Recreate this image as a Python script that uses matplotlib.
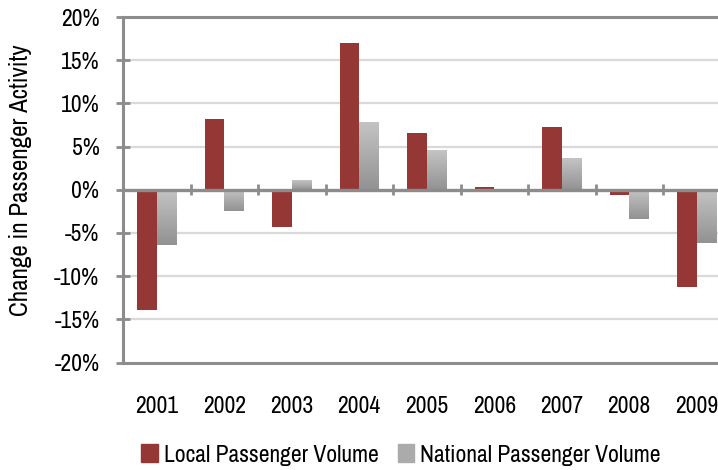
import numpy as np
import matplotlib
matplotlib.use('Agg')
import matplotlib.pyplot as plt
import matplotlib.patches as mpatches
from matplotlib.colors import LinearSegmentedColormap

plt.rcParams['font.family'] = ['Liberation Sans Narrow', 'Archivo Narrow', 'PT Sans Narrow',
                               'Roboto Condensed', 'DejaVu Sans']

years = ['2001', '2002', '2003', '2004', '2005', '2006', '2007', '2008', '2009']
local_vol = [-13.9, 8.2, -4.3, 17.0, 6.6, 0.3, 7.3, -0.6, -11.3]
national_vol = [-6.4, -2.5, 1.1, 7.8, 4.6, 0.0, 3.7, -3.4, -6.2]
yticks = [-20, -15, -10, -5, 0, 5, 10, 15, 20]

red = '#953735'
axis_grey = '#8c8c8c'
grad_cmap = LinearSegmentedColormap.from_list('grad', ['#c4c4c4', '#929292'])

fig = plt.figure(figsize=(7.18, 4.70), dpi=100)
ax = fig.add_axes([123 / 718, 107.5 / 470, 607.5 / 718, 345.5 / 470])

x = np.arange(len(years))
w = 0.286

ax.bar(x - w / 2, local_vol, w, color=red, zorder=3)
nat_bars = ax.bar(x + w / 2, national_vol, w, color='none', zorder=3)

# gradient fill on the national bars
grad = np.linspace(0, 1, 256).reshape(-1, 1)
for rect in nat_bars:
    x0 = rect.get_x()
    y0 = rect.get_y()
    h = rect.get_height()
    if h == 0:
        continue
    lo, hi = min(y0, y0 + h), max(y0, y0 + h)
    ax.imshow(grad, extent=[x0, x0 + rect.get_width(), lo, hi], origin='upper',
              aspect='auto', cmap=grad_cmap, zorder=3)

ax.set_xlim(-0.5, len(years) - 0.5)
ax.set_ylim(-20, 20)

# gridlines
for v in yticks[1:-1]:
    if v != 0:
        ax.axhline(v, color='#d9d9d9', lw=1.6, zorder=1)

# zero line with category boundary ticks
ax.axhline(0, color=axis_grey, lw=2.4, zorder=4)
ax.vlines(np.arange(0.5, len(years) - 0.5, 1), -0.65, 0.65, color=axis_grey, lw=2, zorder=4)

ax.set_xticks(x)
ax.set_xticklabels(years, fontsize=17)
ax.tick_params(axis='x', length=0, pad=24)

ax.set_yticks(yticks)
ax.set_yticklabels([f'{v}%' for v in yticks], fontsize=17)
ax.tick_params(axis='y', direction='inout', length=10, width=2, color=axis_grey, pad=12)

for s in ['left', 'top', 'bottom']:
    ax.spines[s].set_color(axis_grey)
    ax.spines[s].set_linewidth(2.2)
ax.spines['right'].set_visible(False)

ax.set_ylabel('Change in Passenger Activity', fontsize=18)
ax.yaxis.set_label_coords(-0.15, 0.528)

handles = [mpatches.Patch(color=red, label='Local Passenger Volume'),
           mpatches.Patch(color='#ababab', label='National Passenger Volume')]
fig.legend(handles=handles, loc='center left', bbox_to_anchor=(132 / 718, 1 - 455 / 470),
           ncol=2, frameon=False, fontsize=17, handlelength=0.7, handleheight=0.8,
           handletextpad=0.25, columnspacing=0.8, borderaxespad=0)

fig.savefig('out.png', dpi=100)
